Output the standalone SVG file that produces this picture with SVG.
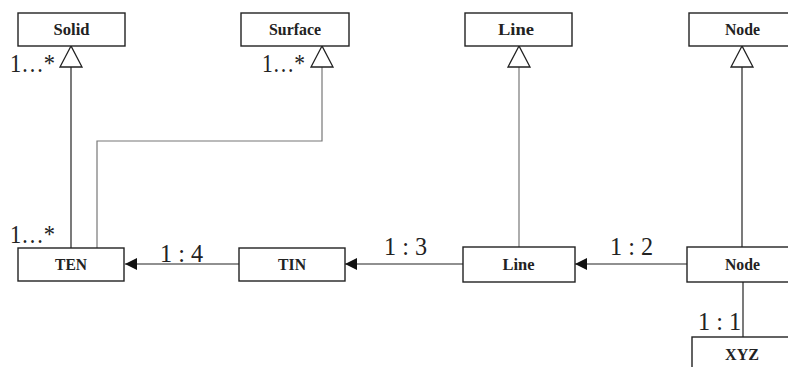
<svg xmlns="http://www.w3.org/2000/svg" width="788" height="367" viewBox="0 0 788 367">
<defs>
<style>
.box{fill:#fff;stroke:#222;stroke-width:1.4}
.lbl{font-family:"Liberation Serif",serif;font-weight:bold;font-size:17px;fill:#222;text-anchor:middle}
.ratio{font-family:"Liberation Serif",serif;font-size:25px;fill:#222}
.ln{fill:none;stroke:#222;stroke-width:1.2}
.lg{fill:none;stroke:#777;stroke-width:1.2}
.tri{fill:#fff;stroke:#222;stroke-width:1.3}
</style>
<marker id="arr" markerWidth="12" markerHeight="12" refX="12" refY="6" orient="auto" markerUnits="userSpaceOnUse">
<path d="M0,0 L12,6 L0,12 Z" fill="#111"/>
</marker>
</defs>
<rect width="788" height="367" fill="#fff"/>
<g id="connectors">
<path class="ln" d="M71,67 V248"/>
<path class="lg" d="M322,67 V141 H97 V248"/>
<path class="lg" d="M519,67 V247"/>
<path class="ln" d="M742,67 V247"/>
<path class="ln" d="M239,264 H125" marker-end="url(#arr)"/>
<path class="ln" d="M463,264 H345" marker-end="url(#arr)"/>
<path class="ln" d="M687,264 H575" marker-end="url(#arr)"/>
<path class="ln" d="M743,282 V337"/>
<path class="tri" d="M71,46 L60,67 L82,67 Z"/>
<path class="tri" d="M322,46 L311,67 L333,67 Z"/>
<path class="tri" d="M519,46 L508,67 L530,67 Z"/>
<path class="tri" d="M742,46 L731,67 L753,67 Z"/>
<text class="ratio" x="10" y="72" textLength="45" lengthAdjust="spacingAndGlyphs">1…*</text>
<text class="ratio" x="262" y="72" textLength="43" lengthAdjust="spacingAndGlyphs">1…*</text>
<text class="ratio" x="10" y="243" textLength="45" lengthAdjust="spacingAndGlyphs">1…*</text>
<text class="ratio" x="160" y="262" textLength="43" lengthAdjust="spacingAndGlyphs">1 : 4</text>
<text class="ratio" x="384" y="255" textLength="43" lengthAdjust="spacingAndGlyphs">1 : 3</text>
<text class="ratio" x="610" y="255" textLength="43" lengthAdjust="spacingAndGlyphs">1 : 2</text>
<text class="ratio" x="698" y="330" textLength="43" lengthAdjust="spacingAndGlyphs">1 : 1</text>
</g>
<g id="solid"><rect class="box" x="18" y="13" width="107" height="33"/><text class="lbl" x="71.5" y="35" textLength="36" lengthAdjust="spacingAndGlyphs">Solid</text></g>
<g id="surface"><rect class="box" x="241" y="13" width="108" height="33"/><text class="lbl" x="295" y="35" textLength="52" lengthAdjust="spacingAndGlyphs">Surface</text></g>
<g id="line-top"><rect class="box" x="465" y="13" width="107" height="33"/><text class="lbl" x="516" y="35" textLength="36" lengthAdjust="spacingAndGlyphs">Line</text></g>
<g id="node-top"><rect class="box" x="689" y="13" width="107" height="33"/><text class="lbl" x="742.5" y="35" textLength="35" lengthAdjust="spacingAndGlyphs">Node</text></g>
<g id="ten"><rect class="box" x="18" y="248" width="106" height="33"/><text class="lbl" x="71" y="270" textLength="32" lengthAdjust="spacingAndGlyphs">TEN</text></g>
<g id="tin"><rect class="box" x="239" y="248" width="106" height="33"/><text class="lbl" x="292" y="270" textLength="28" lengthAdjust="spacingAndGlyphs">TIN</text></g>
<g id="line"><rect class="box" x="463" y="247" width="112" height="35"/><text class="lbl" x="518.5" y="270" textLength="32" lengthAdjust="spacingAndGlyphs">Line</text></g>
<g id="node"><rect class="box" x="687" y="247" width="110" height="35"/><text class="lbl" x="742.5" y="270" textLength="35" lengthAdjust="spacingAndGlyphs">Node</text></g>
<g id="xyz"><rect class="box" x="692" y="337" width="100" height="40"/><text class="lbl" x="742" y="360" textLength="34" lengthAdjust="spacingAndGlyphs">XYZ</text></g>
</svg>
